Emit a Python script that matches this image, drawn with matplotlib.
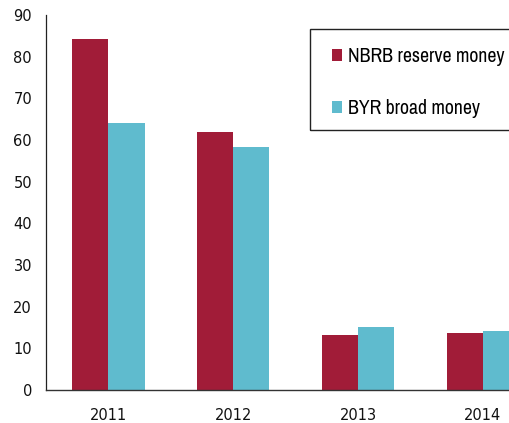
import matplotlib
matplotlib.use("Agg")
import matplotlib.pyplot as plt
from matplotlib.patches import Rectangle
from matplotlib import font_manager
import numpy as np

years = ["2011", "2012", "2013", "2014"]
nbrb_reserve = [84.2, 61.8, 13.2, 13.6]
byr_broad = [64.1, 58.3, 15.1, 14.1]
series_labels = ["NBRB reserve money", "BYR broad money"]
yticks = [0, 10, 20, 30, 40, 50, 60, 70, 80, 90]

RED = "#A11C38"
BLUE = "#5FBBCE"

# pick a narrow / condensed font if available
names = {f.name for f in font_manager.fontManager.ttflist}
cond = [n for n in sorted(names) if ("Narrow" in n or "Condensed" in n)]
if cond:
    LEG_FAMILY = cond[0]
else:
    LEG_FAMILY = "Roboto" if "Roboto" in names else "DejaVu Sans"
TICK_FAMILY = "DejaVu Sans"

W, H = 509, 423
fig = plt.figure(figsize=(W / 100, H / 100), dpi=100)
ax = fig.add_axes([46 / W, (H - 390) / H, 1 - 46 / W, (390 - 15) / H])

x = np.arange(len(years))
bw = 0.29
ax.bar(x - bw / 2, nbrb_reserve, width=bw, color=RED, label=series_labels[0])
ax.bar(x + bw / 2, byr_broad, width=bw, color=BLUE, label=series_labels[1])

ax.set_xlim(-0.5, 3.21)
ax.set_ylim(0, 90)
ax.set_yticks(yticks)
ax.set_yticklabels([str(v) for v in yticks], family=TICK_FAMILY)
ax.set_xticks(x)
ax.set_xticklabels(years, family=TICK_FAMILY)
for s in ["top", "right"]:
    ax.spines[s].set_visible(False)
ax.spines["left"].set_color("#222222")
ax.spines["left"].set_linewidth(0.9)
ax.spines["bottom"].set_color("#333333")
ax.spines["bottom"].set_linewidth(1.0)
ax.tick_params(axis="both", length=0, labelsize=10.5, colors="#111111")
ax.tick_params(axis="y", pad=10)
ax.tick_params(axis="x", pad=13)

# fit legend font so the longest label ends near the right edge
size = 13.0
renderer = fig.canvas.get_renderer()
t = fig.text(0, 0, series_labels[0], family=LEG_FAMILY, size=size)
wpx = t.get_window_extent(renderer).width
t.remove()
target = 157.0
size = size * target / wpx

fig.patches.append(Rectangle((310 / W, 1 - 130 / H), 300 / W, 101 / H,
                             transform=fig.transFigure, fill=False,
                             edgecolor="#222222", linewidth=1.0))
fpx = size * 100 / 72
hs = 10 / fpx
leg = fig.legend(loc="upper left", bbox_to_anchor=(332 / W, 1 - 47 / H),
                 frameon=False, borderaxespad=0, borderpad=0,
                 prop={"family": LEG_FAMILY, "size": size},
                 handlelength=hs, handleheight=hs, handletextpad=0.3,
                 labelspacing=33 / fpx)

fig.savefig("out.png", dpi=100)
